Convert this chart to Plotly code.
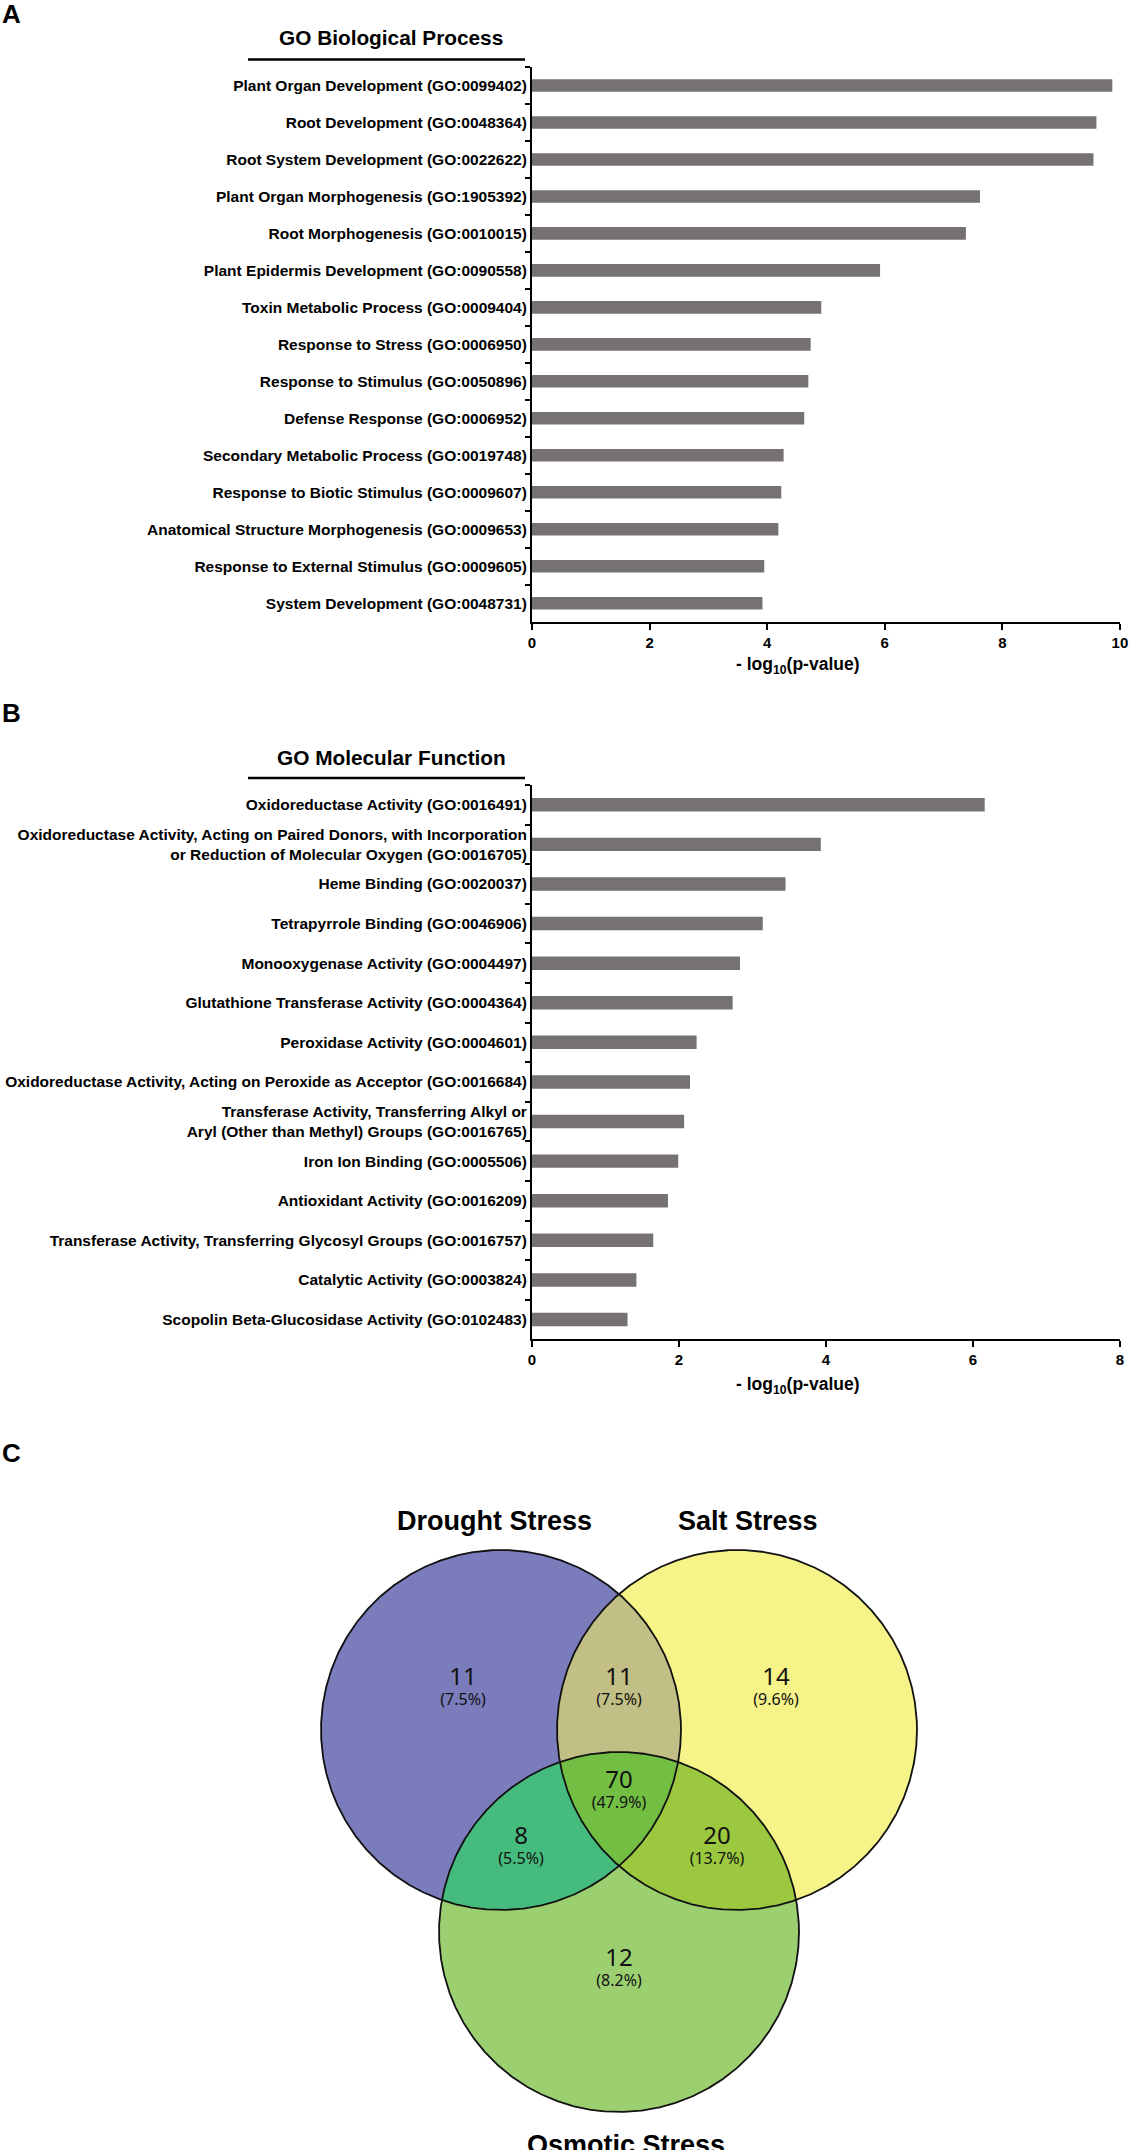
import numpy as np
import plotly.graph_objects as go

# ---------------- data ----------------
bp_terms = [
    "Plant Organ Development (GO:0099402)",
    "Root Development (GO:0048364)",
    "Root System Development (GO:0022622)",
    "Plant Organ Morphogenesis (GO:1905392)",
    "Root Morphogenesis (GO:0010015)",
    "Plant Epidermis Development (GO:0090558)",
    "Toxin Metabolic Process (GO:0009404)",
    "Response to Stress (GO:0006950)",
    "Response to Stimulus (GO:0050896)",
    "Defense Response (GO:0006952)",
    "Secondary Metabolic Process (GO:0019748)",
    "Response to Biotic Stimulus (GO:0009607)",
    "Anatomical Structure Morphogenesis (GO:0009653)",
    "Response to External Stimulus (GO:0009605)",
    "System Development (GO:0048731)",
]
bp_values = [9.87, 9.60, 9.55, 7.62, 7.38, 5.92, 4.92, 4.74, 4.70, 4.63,
             4.28, 4.24, 4.19, 3.95, 3.92]

mf_terms = [
    "Oxidoreductase Activity (GO:0016491)",
    "Oxidoreductase Activity, Acting on Paired Donors, with Incorporation<br>or Reduction of Molecular Oxygen (GO:0016705)",
    "Heme Binding (GO:0020037)",
    "Tetrapyrrole Binding (GO:0046906)",
    "Monooxygenase Activity (GO:0004497)",
    "Glutathione Transferase Activity (GO:0004364)",
    "Peroxidase Activity (GO:0004601)",
    "Oxidoreductase Activity, Acting on Peroxide as Acceptor (GO:0016684)",
    "Transferase Activity, Transferring Alkyl or<br>Aryl (Other than Methyl) Groups (GO:0016765)",
    "Iron Ion Binding (GO:0005506)",
    "Antioxidant Activity (GO:0016209)",
    "Transferase Activity, Transferring Glycosyl Groups (GO:0016757)",
    "Catalytic Activity (GO:0003824)",
    "Scopolin Beta-Glucosidase Activity (GO:0102483)",
]
mf_values = [6.16, 3.93, 3.45, 3.14, 2.83, 2.73, 2.24, 2.15, 2.07, 1.99,
             1.85, 1.65, 1.42, 1.30]

bp_ticks = [0, 2, 4, 6, 8, 10]
mf_ticks = [0, 2, 4, 6, 8]

venn_sets = ["Drought Stress", "Salt Stress", "Osmotic Stress"]
venn_regions = [("D",), ("D", "S"), ("S",), ("D", "S", "O"), ("D", "O"), ("S", "O"), ("O",)]
venn_counts = [11, 11, 14, 70, 8, 20, 12]

# ---------------- layout helpers ----------------
W, H = 1130, 2150


def px(x):
    return x / W


def py(y):
    return 1 - y / H


BAR_COLOR = "#767273"
LAB_FONT = "Liberation Sans"

fig = go.Figure()

fig.add_trace(go.Bar(x=bp_values, y=bp_terms, orientation="h", width=0.34,
                     marker=dict(color=BAR_COLOR, line=dict(width=0)),
                     xaxis="x", yaxis="y"))
fig.add_trace(go.Bar(x=mf_values, y=mf_terms, orientation="h", width=0.34,
                     marker=dict(color=BAR_COLOR, line=dict(width=0)),
                     xaxis="x2", yaxis="y2"))

# ---------------- Venn geometry (layout) ----------------
R = 180.0
centers = {"D": (501.0, 1730.0), "S": (737.0, 1730.0), "O": (619.0, 1932.0)}
fill_colors = {
    ("D",): "#7A7CBB", ("S",): "#F6F388", ("O",): "#9BCF70",
    ("D", "S"): "#C1BF86", ("D", "O"): "#46BB7E", ("S", "O"): "#9BC83E",
    ("D", "S", "O"): "#72BF44",
}


def circle(c, n=1441):
    t = np.linspace(0, 2 * np.pi, n)
    return c[0] + R * np.cos(t), c[1] + R * np.sin(t)


def intersection_poly(keys):
    xs_all, ys_all = [], []
    for k in keys:
        xs, ys = circle(centers[k])
        mask = np.ones_like(xs, dtype=bool)
        for o in keys:
            if o == k:
                continue
            cx, cy = centers[o]
            mask &= (xs - cx) ** 2 + (ys - cy) ** 2 <= R ** 2 + 1e-6
        xs_all.append(xs[mask])
        ys_all.append(ys[mask])
    X = np.concatenate(xs_all)
    Y = np.concatenate(ys_all)
    mx, my = X.mean(), Y.mean()
    order = np.argsort(np.arctan2(Y - my, X - mx))
    X, Y = X[order], Y[order]
    return np.append(X, X[0]), np.append(Y, Y[0])


paint_order = [("D",), ("S",), ("O",), ("D", "S"), ("D", "O"), ("S", "O"), ("D", "S", "O")]
for keys in paint_order:
    X, Y = intersection_poly(keys)
    fig.add_trace(go.Scatter(x=X, y=Y, mode="lines", fill="toself",
                             fillcolor=fill_colors[keys], line=dict(width=0, color=fill_colors[keys]),
                             xaxis="x3", yaxis="y3", hoverinfo="skip"))
for k in ["D", "S", "O"]:
    X, Y = circle(centers[k])
    fig.add_trace(go.Scatter(x=X, y=Y, mode="lines", line=dict(color="#111111", width=1.8),
                             xaxis="x3", yaxis="y3", hoverinfo="skip"))

label_pos = {("D",): (463, 1691), ("D", "S"): (619, 1691), ("S",): (776, 1691),
             ("D", "S", "O"): (619, 1794), ("D", "O"): (521, 1850), ("S", "O"): (717, 1850),
             ("O",): (619, 1972)}
total = sum(venn_counts)
lab_x = [label_pos[r][0] for r in venn_regions]
lab_y = [label_pos[r][1] for r in venn_regions]
lab_text = ["<span style='font-size:24px'>%d</span><br>(%.1f%%)" % (c, 100.0 * c / total)
            for c in venn_counts]
fig.add_trace(go.Scatter(x=lab_x, y=lab_y, mode="text", text=lab_text,
                         textposition="middle center",
                         textfont=dict(family="Noto Sans", size=16, color="#111111"),
                         xaxis="x3", yaxis="y3", hoverinfo="skip"))

# ---------------- axes ----------------
xcommon = dict(showline=True, linecolor="black", linewidth=2, ticks="outside", ticklen=6,
               tickwidth=2, tickcolor="black", showgrid=False, zeroline=False,
               tickfont=dict(family=LAB_FONT, size=15, color="black", weight="bold"),
               ticklabeloverflow="allow", automargin=False, fixedrange=True)
ycommon = dict(type="category", autorange="reversed", showline=True, linecolor="black",
               linewidth=2, ticks="outside", ticklen=5, tickwidth=2, tickcolor="black",
               tickson="boundaries", showgrid=False, zeroline=False,
               tickfont=dict(family=LAB_FONT, size=15.5, color="black", weight="bold"),
               automargin=False, fixedrange=True)

fig.update_layout(
    width=W, height=H, margin=dict(l=0, r=0, t=0, b=0),
    paper_bgcolor="white", plot_bgcolor="white", showlegend=False, hovermode=False,
    xaxis=dict(xcommon, domain=[px(532), px(1120)], range=[0, 10.001], tickvals=bp_ticks, anchor="y"),
    yaxis=dict(ycommon, domain=[py(621.7), py(67)], anchor="x"),
    xaxis2=dict(xcommon, domain=[px(532), px(1120)], range=[0, 8.001], tickvals=mf_ticks, anchor="y2"),
    yaxis2=dict(ycommon, domain=[py(1339.3), py(785)], anchor="x2"),
    xaxis3=dict(domain=[0, 1], range=[0, W], visible=False, fixedrange=True, anchor="y3"),
    yaxis3=dict(domain=[0, py(1462)], range=[H, 1462], visible=False, fixedrange=True, anchor="x3"),
)

ann = []
for txt, y in [("A", 14.5), ("B", 713), ("C", 1453)]:
    ann.append(dict(text="<b>%s</b>" % txt, x=px(11.5), y=py(y), xref="paper", yref="paper",
                    xanchor="center", yanchor="middle", showarrow=False,
                    font=dict(family=LAB_FONT, size=26, color="black")))
for txt, y in [("GO Biological Process", 38), ("GO Molecular Function", 757)]:
    ann.append(dict(text="<b>%s</b>" % txt, x=px(391), y=py(y), xref="paper", yref="paper",
                    xanchor="center", yanchor="middle", showarrow=False,
                    font=dict(family=LAB_FONT, size=20.8, color="black")))
for y in [665, 1385]:
    ann.append(dict(text="<b>- log<sub>10</sub>(p-value)</b>", x=px(798), y=py(y), xref="paper",
                    yref="paper", xanchor="center", yanchor="middle", showarrow=False,
                    font=dict(family=LAB_FONT, size=17.5, color="black")))
for txt, x, y in [(venn_sets[0], 494, 1521), (venn_sets[1], 748, 1521), (venn_sets[2], 626, 2145)]:
    ann.append(dict(text="<b>%s</b>" % txt, x=px(x), y=py(y), xref="paper", yref="paper",
                    xanchor="center", yanchor="middle", showarrow=False,
                    font=dict(family=LAB_FONT, size=27, color="black")))
fig.update_layout(annotations=ann)

fig.update_layout(shapes=[
    dict(type="line", xref="paper", yref="paper", x0=px(248), x1=px(525), y0=py(59.5), y1=py(59.5),
         line=dict(color="black", width=2.5)),
    dict(type="line", xref="paper", yref="paper", x0=px(248), x1=px(525), y0=py(778), y1=py(778),
         line=dict(color="black", width=2.5)),
])

fig.write_html("out.html", config={"displayModeBar": False},
               post_script="document.body.style.margin='0px';")
